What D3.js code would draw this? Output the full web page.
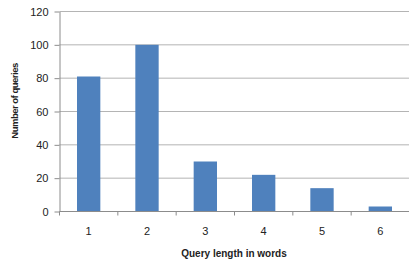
<!DOCTYPE html>
<html>
<head>
<meta charset="utf-8">
<title>Query length</title>
<script src="https://d3js.org/d3.v7.min.js"></script>
<style>
body { margin: 0; background: #fff; }
text { font-family: "Liberation Sans", Arial, sans-serif; fill: #222; }
.grid line { stroke: #b4b4b4; }
.axis path, .axis line { stroke: #8c8c8c; }
.title { font-weight: bold; font-size: 10px; }
</style>
</head>
<body>
<svg width="409" height="263"></svg>
<script>
// query length (words) vs number of queries
var lengths = ["1", "2", "3", "4", "5", "6"];
var counts = [81, 100, 30, 22, 14, 3];
var yTicks = [0, 20, 40, 60, 80, 100, 120];

var svg = d3.select("svg"),
    plotLeft = 59.5, plotRight = 409.5, plotTop = 11.5, plotBottom = 211.5;

var x = d3.scaleBand().domain(lengths).range([plotLeft, plotRight]).paddingInner(0.6).paddingOuter(0.3);
var xb = d3.scaleBand().domain(lengths).range([plotLeft, plotRight]);
var y = d3.scaleLinear().domain([0, 120]).range([plotBottom, plotTop]);

// gridlines
svg.append("g").attr("class", "grid")
  .selectAll("line")
  .data(yTicks.slice(1))
  .enter().append("line")
    .attr("x1", plotLeft).attr("x2", plotRight)
    .attr("y1", function(d) { return y(d); })
    .attr("y2", function(d) { return y(d); });

// bars
svg.append("g")
  .selectAll("rect")
  .data(counts)
  .enter().append("rect")
    .attr("x", function(d, i) { return x(lengths[i]); })
    .attr("width", x.bandwidth())
    .attr("y", function(d) { return y(d); })
    .attr("height", function(d) { return plotBottom - y(d); })
    .attr("fill", "#4f81bd");

// y axis
var ya = svg.append("g").attr("class", "axis")
  .attr("transform", "translate(" + plotLeft + ",0)")
  .call(d3.axisLeft(y).tickValues(yTicks).tickSize(5).tickPadding(6).tickSizeOuter(0));
ya.selectAll("text").style("font-size", "11px");

// x axis, ticks at band boundaries
var xa = svg.append("g").attr("class", "axis")
  .attr("transform", "translate(0," + plotBottom + ")");
xa.append("line").attr("x1", plotLeft).attr("x2", plotRight);
xa.selectAll(".tk")
  .data(lengths.concat(["end"]))
  .enter().append("line")
    .attr("class", "tk")
    .attr("x1", function(d, i) { return plotLeft + i * xb.step(); })
    .attr("x2", function(d, i) { return plotLeft + i * xb.step(); })
    .attr("y1", 0).attr("y2", 4);
xa.selectAll("text")
  .data(lengths)
  .enter().append("text")
    .attr("x", function(d) { return xb(d) + xb.bandwidth() / 2; })
    .attr("y", 23)
    .attr("text-anchor", "middle")
    .style("font-size", "11px")
    .text(function(d) { return d; });

// axis titles
svg.append("text").attr("class", "title")
  .attr("x", 234).attr("y", 257)
  .attr("text-anchor", "middle")
  .text("Query length in words");

svg.append("text").attr("class", "title")
  .attr("transform", "translate(18,101) rotate(-90)")
  .attr("text-anchor", "middle")
  .style("font-size", "9.5px")
  .style("letter-spacing", "-0.5px")
  .text("Number of queries");
</script>
</body>
</html>
